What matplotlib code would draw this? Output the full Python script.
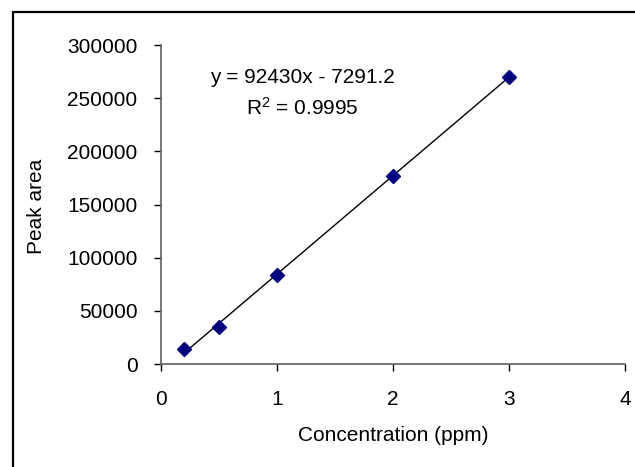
import numpy as np
import matplotlib.pyplot as plt
from matplotlib.patches import Rectangle

# calibration data
concentration = [0.2, 0.5, 1.0, 2.0, 3.0]
peak_area = [14000, 34800, 83800, 177200, 270300]
equation = 'y = 92430x - 7291.2'
r_squared = '$\\mathregular{R^2}$ = 0.9995'

x_ticks = [0, 1, 2, 3, 4]
y_ticks = [0, 50000, 100000, 150000, 200000, 250000, 300000]

plt.rcParams['font.family'] = ['Liberation Sans', 'DejaVu Sans']

# set up figure
fig = plt.figure(figsize=(6.35, 4.67), dpi=100)
ax = fig.add_axes([161/635, 1 - 364/467, 464/635, 319/467])

# outer chart frame (cut off at right and bottom)
fig.add_artist(Rectangle((12.5/635, -0.1), 1.2, 1.1 - 11.5/467,
                         transform=fig.transFigure, fill=False,
                         lw=1.6, ec='black', clip_on=False))

# linear trendline
slope, intercept = np.polyfit(concentration, peak_area, 1)
xs = np.array([concentration[0], concentration[-1]])
ax.plot(xs, slope * xs + intercept, color='black', lw=1.0, zorder=2)

# data points
ax.plot(concentration, peak_area, linestyle='none', marker='D',
        markersize=7, color='#000080', zorder=3)

ax.text(1.22, 269700, equation, ha='center', va='center', fontsize=15)
ax.text(1.22, 240600, r_squared, ha='center', va='center', fontsize=15)

ax.set_xlim(0, 4)
ax.set_ylim(0, 300000)
ax.set_xticks(x_ticks)
ax.set_yticks(y_ticks)
ax.tick_params(direction='out', length=5, width=1, labelsize=15)
ax.tick_params(axis='x', pad=14)
ax.tick_params(axis='y', pad=12)

for side in ['top', 'right']:
    ax.spines[side].set_visible(False)
for side in ['left', 'bottom']:
    ax.spines[side].set_color('#606060')
    ax.spines[side].set_linewidth(1.2)

ax.set_xlabel('Concentration (ppm)', fontsize=15, labelpad=12)
ax.set_ylabel('Peak area', fontsize=15)
# place the y label near the left frame, as in the reference
ax.yaxis.set_label_coords((46 - 161) / 464, (364 - 206) / 319)

plt.savefig('out.png', dpi=100)
